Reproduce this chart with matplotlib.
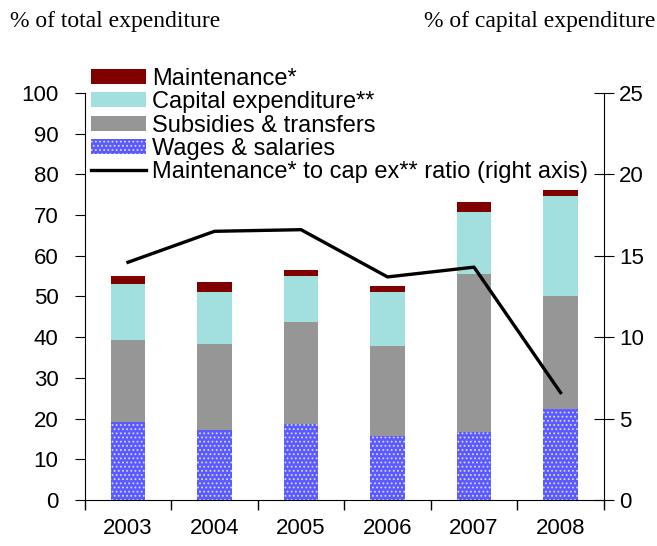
import numpy as np
import matplotlib
matplotlib.use('Agg')
from matplotlib import pyplot as plt

years = ['2003', '2004', '2005', '2006', '2007', '2008']
# cumulative tops, converted to segment sizes below
wages = [19.2, 17.2, 18.7, 15.7, 16.7, 22.3]
subsidies_top = [39.3, 38.3, 43.7, 37.8, 55.5, 50.1]
capex_top = [53.1, 51.1, 55.0, 51.1, 70.8, 74.7]
maint_top = [55.0, 53.6, 56.5, 52.6, 73.2, 76.2]
ratio = [14.6, 16.5, 16.6, 13.7, 14.3, 6.6]

subsidies = np.array(subsidies_top) - np.array(wages)
capex = np.array(capex_top) - np.array(subsidies_top)
maint = np.array(maint_top) - np.array(capex_top)

plt.rcParams['font.family'] = ['Liberation Sans', 'DejaVu Sans']
plt.rcParams['hatch.linewidth'] = 0.8

fig = plt.figure(figsize=(6.57, 5.46), dpi=100)
ax = fig.add_axes([0.129, 0.084, 0.79, 0.746])
x = np.arange(len(years))
w = 0.4

b_w = ax.bar(x, wages, w, color='#5a5aff', edgecolor='#d8d8ff', hatch='....', linewidth=0,
             label='Wages & salaries')
b_s = ax.bar(x, subsidies, w, bottom=wages, color='#969696', label='Subsidies & transfers')
b_c = ax.bar(x, capex, w, bottom=subsidies_top, color='#a2e0e0', label='Capital expenditure**')
b_m = ax.bar(x, maint, w, bottom=capex_top, color='#800000', label='Maintenance*')

ax.set_xlim(-0.5, 5.5)
ax.set_ylim(0, 100)
ax.set_yticks(range(0, 101, 10))
ax.set_xticks(x)
ax.set_xticklabels(years)
ax.set_xticks(np.arange(-0.5, 6, 1), minor=True)
ax.tick_params(axis='x', which='major', length=0, labelsize=16, pad=13)
ax.tick_params(axis='x', which='minor', length=7, width=1)
ax.tick_params(axis='y', labelsize=16, length=7, direction='out', pad=12)
ax.spines['top'].set_visible(False)
ax.spines['right'].set_visible(False)

ax2 = ax.twinx()
ln, = ax2.plot(x, ratio, color='black', lw=2.4, label='Maintenance* to cap ex** ratio (right axis)')
ax2.set_ylim(0, 25)
ax2.set_yticks(range(0, 26, 5))
ax2.tick_params(axis='y', labelsize=16, length=14, direction='inout', pad=4)
ax2.spines['top'].set_visible(False)
ax2.spines['left'].set_visible(False)
ax2.spines['bottom'].set_visible(False)

fig.legend([b_m, b_c, b_s, b_w, ln],
           ['Maintenance*', 'Capital expenditure**', 'Subsidies & transfers',
            'Wages & salaries', 'Maintenance* to cap ex** ratio (right axis)'],
           loc='upper left', bbox_to_anchor=(0.138, 0.876), frameon=False,
           fontsize=17, handlelength=2.35, handleheight=0.6, labelspacing=0.06,
           handletextpad=0.25, borderaxespad=0, borderpad=0)

fig.text(0.015, 0.96, '% of total expenditure', family='Liberation Serif', fontsize=17,
         va='center', ha='left')
fig.text(0.998, 0.96, '% of capital expenditure', family='Liberation Serif', fontsize=17,
         va='center', ha='right')

fig.savefig('out.png', dpi=100)
